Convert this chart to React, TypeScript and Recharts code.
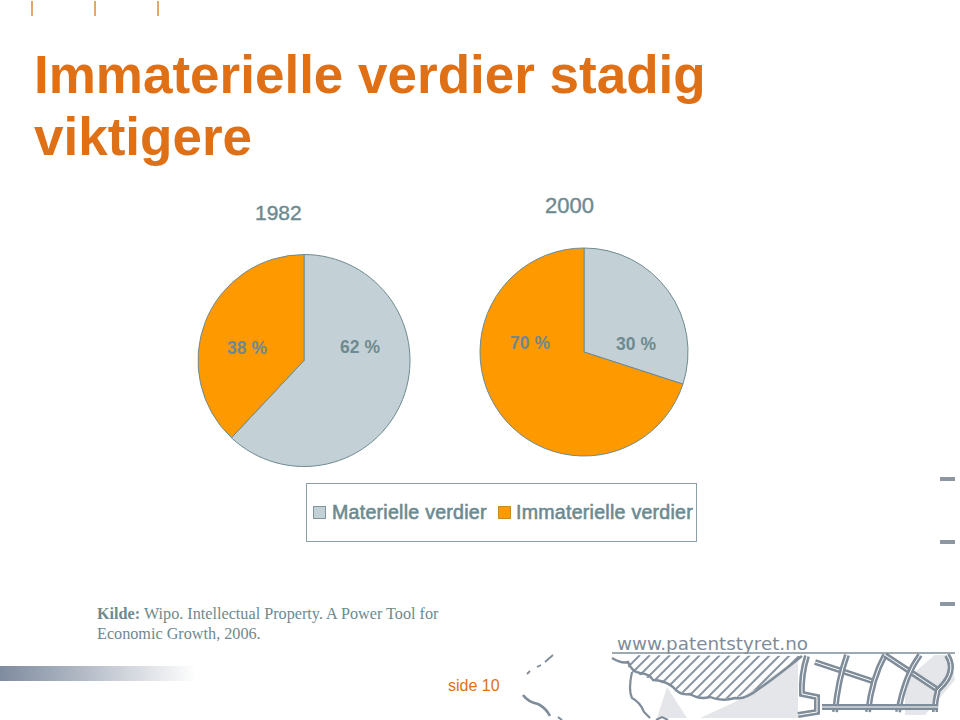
import { PieChart, Pie, Cell, Legend } from "recharts";

const CATEGORIES = ["Materielle verdier", "Immaterielle verdier"];
const COLORS = ["#c3d0d6", "#ff9900"];
const VALUES_1982 = [62, 38];
const VALUES_2000 = [30, 70];

const TEXT_GREY = "#6d8a90";
const ORANGE_TEXT = "#e07016";
const STREET = "#7f8c99";

const data1982 = CATEGORIES.map((name, i) => ({ name, value: VALUES_1982[i] }));
const data2000 = CATEGORIES.map((name, i) => ({ name, value: VALUES_2000[i] }));

// label anchors relative to the pie centre, the labels are not on the mid angle
const OFFSETS_1982 = [[56, -8], [-57, -7]];
const OFFSETS_2000 = [[52, -2], [-54, -3]];

function makeLabel(offsets: number[][]) {
  return (props: any) => {
    const [dx, dy] = offsets[props.index];
    return (
      <text
        x={props.cx + dx}
        y={props.cy + dy}
        textAnchor="middle"
        fill={TEXT_GREY}
        fontSize={17.5}
        fontWeight="bold"
        fontFamily="Liberation Sans"
      >
        {props.value} %
      </text>
    );
  };
}

function LegendBox() {
  return (
    <div
      style={{
        boxSizing: "border-box",
        width: 391,
        height: 59,
        border: "1px solid #8aa0a6",
        position: "relative",
        fontFamily: "Liberation Sans",
        fontSize: 19.6,
        letterSpacing: 0.25,
        color: TEXT_GREY,
        WebkitTextStroke: "0.6px #6d8a90",
        lineHeight: "20px",
      }}
    >
      {CATEGORIES.map((name, i) => (
        <div key={name} style={{ position: "absolute", left: i === 0 ? 6 : 191, top: 18, whiteSpace: "nowrap" }}>
          <span
            style={{
              position: "absolute",
              left: 0,
              top: 4,
              width: 13,
              height: 13,
              background: COLORS[i],
              border: `1px solid ${i === 0 ? "#7f969c" : "#c98a20"}`,
              boxSizing: "border-box",
            }}
          />
          <span style={{ marginLeft: i === 0 ? 19 : 18 }}>{name}</span>
        </div>
      ))}
    </div>
  );
}

const HATCH_X = [590, 600, 610, 620, 630, 640, 650, 660, 670, 680, 690, 700, 710, 720, 730, 740, 750, 760];
const STREETS = [
  "M807 656 Q801 675 802 694 L817 697 L817 712 L798 715",
  "M815 662 L872 681",
  "M847 655 Q838 680 835 712",
  "M885 655 Q872 678 868 712",
  "M885 655 L938 690",
  "M920 655 Q905 675 898 712",
  "M947 655 Q958 672 938 690 Q935 700 935 712",
  "M822 707 L938 707",
];

function Decoration() {
  return (
    <svg width={960} height={720} style={{ position: "absolute", left: 0, top: 0 }}>
      <defs>
        <linearGradient id="band" x1="0" x2="1" y1="0" y2="0">
          <stop offset="0" stopColor="#7f8b9f" />
          <stop offset="0.3" stopColor="#a3acba" />
          <stop offset="1" stopColor="#ffffff" />
        </linearGradient>
        <clipPath id="coast">
          <polygon points="613,655 613,658 625,662 632,672 653,680 673,687 687,695 710,698 735,698 760,688 778,675 802,656" />
        </clipPath>
      </defs>
      <rect x={0} y={666} width={196} height={15} fill="url(#band)" />

      {[32, 95, 158].map((x) => (
        <line key={x} x1={x} x2={x} y1={1} y2={16} stroke="#d98a3c" strokeWidth={1.5} />
      ))}
      {[477, 540, 602].map((y) => (
        <rect key={y} x={940} y={y} width={15} height={4} fill="#8d96a3" />
      ))}

      {/* grey blocks behind the map */}
      <polygon points="657,718 667,687 687,718" fill="#e4e6e9" />
      <polygon points="700,718 735,702 798,658 798,718" fill="#e4e6e9" />
      <polygon points="905,680 935,655 950,655 955,680 925,715 905,715" fill="#e4e6e9" />

      {/* hatched coast */}
      <g clipPath="url(#coast)" stroke="#8a95a2" strokeWidth={2}>
        {HATCH_X.map((x) => (
          <line key={x} x1={x} y1={705} x2={x + 50} y2={655} />
        ))}
      </g>
      <path
        d="M612 658 Q622 664 628 662 Q632 672 640 673 Q650 674 653 680 Q664 680 673 687 Q680 696 690 694 Q700 700 710 697 Q722 702 735 698 Q745 700 760 688 Q772 680 802 656"
        stroke={STREET}
        strokeWidth={2.4}
        fill="none"
      />
      <path d="M632 672 Q628 690 632 698 Q640 702 644 712 L650 718" stroke={STREET} strokeWidth={2.2} fill="none" />
      <path d="M523 695 Q528 702 538 704 Q546 708 550 716" stroke={STREET} strokeWidth={2.6} fill="none" />
      <path d="M553 655 L545 662 M541 665 L537 667 M530 671 L527 674" stroke={STREET} strokeWidth={1.8} fill="none" />
      <path d="M558 717 L562 720 M656 720 L662 717 L668 720" stroke={STREET} strokeWidth={2} fill="none" />

      {/* streets, grey with a white core */}
      {STREETS.map((d) => (
        <g key={d} fill="none">
          <path d={d} stroke={STREET} strokeWidth={6} />
          <path d={d} stroke="#ffffff" strokeWidth={1} />
        </g>
      ))}
      <line x1={612} x2={955} y1={653} y2={653} stroke={STREET} strokeWidth={1.5} />
      <text x={617} y={650} fontFamily="DejaVu Sans" fontSize={17} fill={STREET} textLength={191} lengthAdjust="spacingAndGlyphs">
        www.patentstyret.no
      </text>
    </svg>
  );
}

const textBase: React.CSSProperties = { position: "absolute", whiteSpace: "nowrap", fontFamily: "Liberation Sans" };

export default function App() {
  return (
    <div style={{ position: "absolute", left: 0, top: 0, width: 960, height: 720, background: "#fff", overflow: "hidden" }}>
      <Decoration />
      <PieChart width={960} height={720} margin={{ top: 0, right: 0, bottom: 0, left: 0 }} style={{ position: "absolute", left: 0, top: 0 }}>
        <Pie
          data={data1982}
          dataKey="value"
          nameKey="name"
          cx={304}
          cy={360.5}
          outerRadius={106}
          startAngle={90}
          endAngle={-270}
          stroke="#6f8a8f"
          strokeWidth={1}
          label={makeLabel(OFFSETS_1982)}
          labelLine={false}
          isAnimationActive={false}
        >
          {data1982.map((_, i) => (
            <Cell key={i} fill={COLORS[i]} />
          ))}
        </Pie>
        <Pie
          data={data2000}
          dataKey="value"
          nameKey="name"
          cx={584}
          cy={352}
          outerRadius={104}
          startAngle={90}
          endAngle={-270}
          stroke="#6f8a8f"
          strokeWidth={1}
          label={makeLabel(OFFSETS_2000)}
          labelLine={false}
          isAnimationActive={false}
        >
          {data2000.map((_, i) => (
            <Cell key={i} fill={COLORS[i]} />
          ))}
        </Pie>
        <Legend
          content={() => <LegendBox />}
          layout="horizontal"
          verticalAlign="middle"
          align="center"
          wrapperStyle={{ left: 306, top: 483, width: 391, height: 59 }}
        />
      </PieChart>

      <div style={{ ...textBase, left: 34, top: 44, fontSize: 53, lineHeight: "62px", fontWeight: "bold", color: ORANGE_TEXT }}>
        Immaterielle verdier stadig
        <br />
        viktigere
      </div>
      <div style={{ ...textBase, left: 255, top: 201, fontSize: 21, lineHeight: "24px", color: TEXT_GREY, WebkitTextStroke: "0.4px #6d8a90" }}>1982</div>
      <div style={{ ...textBase, left: 545, top: 193, fontSize: 22, lineHeight: "25px", color: TEXT_GREY, WebkitTextStroke: "0.4px #6d8a90" }}>2000</div>

      <div style={{ ...textBase, left: 97, top: 604, fontFamily: "Liberation Serif", fontSize: 16.2, lineHeight: "20px", color: "#6d8a90" }}>
        <b>Kilde:</b> Wipo. Intellectual Property. A Power Tool for
        <br />
        Economic Growth, 2006.
      </div>
      <div style={{ ...textBase, left: 448, top: 676, fontSize: 16, lineHeight: "20px", color: ORANGE_TEXT }}>side 10</div>
    </div>
  );
}
